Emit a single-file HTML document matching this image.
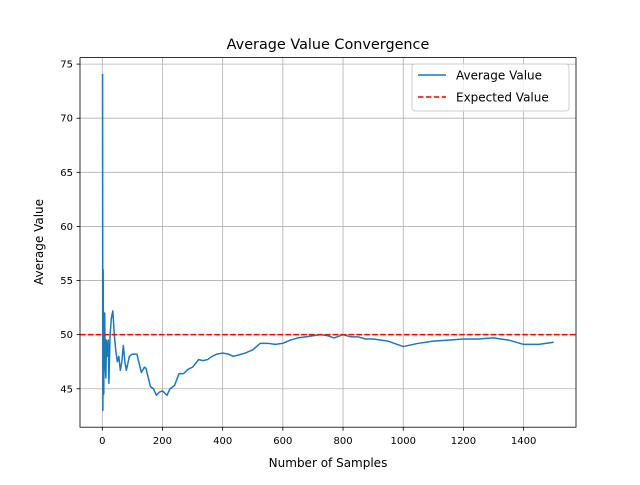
<!DOCTYPE html>
<html><head><meta charset="utf-8"><style>
body{margin:0;background:#fff;font-family:"Liberation Sans","DejaVu Sans",sans-serif}
svg text{font-family:"DejaVu Sans","Liberation Sans",sans-serif;fill:#000}
</style></head><body>
<svg id="c" width="640" height="480">
<rect width="640" height="480" fill="#fff"/>
<g id="grid"></g>
<g id="plot"></g>
<rect x="80" y="57.6" width="496" height="369.6" fill="none" stroke="#000" stroke-width="0.8"/>
<g id="ticks"></g>
<text x="328" y="49" text-anchor="middle" font-size="14.4">Average Value Convergence</text>
<text x="328" y="467" text-anchor="middle" font-size="12">Number of Samples</text>
<text x="0" y="0" transform="translate(43,242) rotate(-90)" text-anchor="middle" font-size="12">Average Value</text>
<g>
<rect x="412" y="64" width="157" height="47" rx="3" fill="#fff" fill-opacity="0.8" stroke="#ccc"/>
<g><line x1="418" y1="75" x2="446" y2="75" stroke="#1f77b4" stroke-width="1.5"/><text x="456" y="79.5" font-size="12">Average Value</text></g>
<g><line x1="418" y1="97" x2="446" y2="97" stroke="red" stroke-width="1.5" stroke-dasharray="5.5,2.4"/><text x="456" y="101.5" font-size="12">Expected Value</text></g>
</g>
</svg>
<script>
const samples=[1,2,3,4,5,6,8,10,12,14,18,20,22,26,30,35,40,45,50,55,60,65,70,75,80,90,100,115,130,140,145,160,170,180,190,200,215,225,240,255,270,285,300,320,335,350,365,380,400,420,435,450,475,500,525,550,575,600,625,650,675,700,725,750,770,800,825,850,875,900,950,1000,1050,1100,1150,1200,1250,1300,1350,1400,1450,1500];
const averages=[74.1,43.0,56.0,47.0,44.5,51.0,52.0,47.0,46.0,49.5,48.0,49.5,45.5,50.0,51.5,52.2,50.0,48.5,47.5,48.0,46.7,47.5,49.0,47.5,46.7,48.0,48.2,48.2,46.5,47.0,46.9,45.2,45.0,44.4,44.7,44.8,44.4,45.0,45.3,46.4,46.4,46.8,47.0,47.7,47.6,47.7,48.0,48.2,48.3,48.2,48.0,48.1,48.3,48.6,49.2,49.2,49.1,49.2,49.5,49.7,49.8,49.9,50.0,49.9,49.7,50.0,49.8,49.8,49.6,49.6,49.4,48.9,49.2,49.4,49.5,49.6,49.6,49.7,49.5,49.1,49.1,49.3];
const expected=50;
const xTicks=[0,200,400,600,800,1000,1200,1400];
const yTicks=[45,50,55,60,65,70,75];
const L=80,R=576,T=57.6,B=427.2,x0=-74,x1=1574,y0=41.45,y1=75.6;
const X=v=>L+(v-x0)/(x1-x0)*(R-L), Y=v=>B-(v-y0)/(y1-y0)*(B-T);
const NS='http://www.w3.org/2000/svg';
function mk(t,a,p){const e=document.createElementNS(NS,t);for(const k in a)e.setAttribute(k,a[k]);p.appendChild(e);return e;}
const grid=document.getElementById('grid'),ticks=document.getElementById('ticks'),plot=document.getElementById('plot');
xTicks.forEach(v=>{const x=X(v);
const g=mk('line',{x1:x,x2:x,y1:T,y2:B,stroke:'#b0b0b0','stroke-width':0.8},grid);


mk('line',{x1:x,x2:x,y1:B,y2:B+3.5,stroke:'#000','stroke-width':0.8},ticks);
const t=mk('text',{x:x,y:B+17,'text-anchor':'middle','font-size':10},ticks);t.textContent=v;

});
yTicks.forEach(v=>{const y=Y(v);
const g=mk('line',{x1:L,x2:R,y1:y,y2:y,stroke:'#b0b0b0','stroke-width':0.8},grid);


mk('line',{x1:L-3.5,x2:L,y1:y,y2:y,stroke:'#000','stroke-width':0.8},ticks);
const t=mk('text',{x:L-7,y:y+3.5,'text-anchor':'end','font-size':10},ticks);t.textContent=v;

});
const d=samples.map((s,i)=>(i?'L':'M')+X(s).toFixed(2)+','+Y(averages[i]).toFixed(2)).join('');
const p=mk('path',{d:d,fill:'none',stroke:'#1f77b4','stroke-width':1.5,'stroke-linejoin':'round'},plot);


const e=mk('line',{x1:L,x2:R,y1:Y(expected),y2:Y(expected),stroke:'red','stroke-width':1.5,'stroke-dasharray':'5.5,2.4'},plot);


</script>
</body></html>
